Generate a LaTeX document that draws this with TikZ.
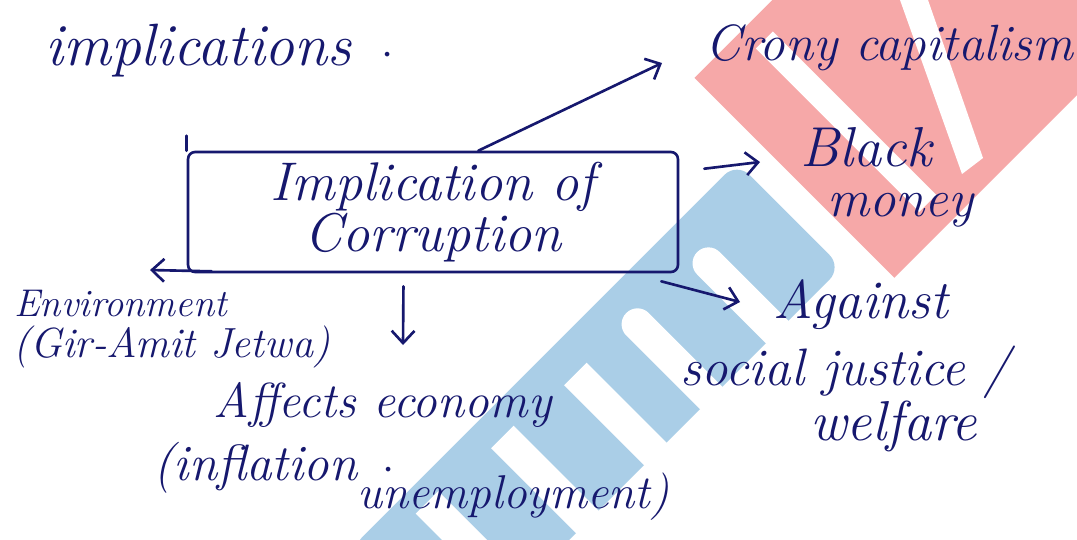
\documentclass[tikz,border=0pt]{standalone}
\usetikzlibrary{arrows.meta,calc}
\definecolor{ink}{RGB}{22,24,110}
\definecolor{wmpink}{RGB}{246,168,168}
\definecolor{wmblue}{RGB}{170,206,231}
\newcommand{\pqbox}[4]{(#1,#2) -- (#3,#2) -- (#3,#4) -- (#1,#4) -- cycle}
\tikzset{
  hw/.style={font=\fontsize{30}{32}\selectfont\itshape, text=ink, inner sep=0pt, anchor=base west},
  conn/.style={draw=ink, line width=1.5pt, line cap=round, line join=round},
  arr/.style={conn, -{Straight Barb[length=7pt,width=13pt,line width=1.5pt]}},
  boxst/.style={draw=ink, line width=1.5pt, rounded corners=4pt, minimum width=9.8cm,
    minimum height=2.4cm, inner sep=0pt, text=ink, align=center,
    font=\fontsize{31}{26}\selectfont\itshape}
}
\begin{document}
\begin{tikzpicture}[x=0.02cm,y=-0.02cm]
\useasboundingbox (0,0) rectangle (1077,539);
\fill[white] (0,0) rectangle (1077,539);
% watermark
\begin{scope}
  \clip (0,0) rectangle (1077,539);
  \begin{scope}[x={(0.01cm,0.01cm)},y={(0.01cm,-0.01cm)}]
    \fill[wmpink] \pqbox{617}{773}{1500}{1173};
    \fill[white] \pqbox{708}{805}{742}{1132};
    \fill[wmblue, rounded corners=10pt] \pqbox{-200}{900}{575}{1110};
    \fill[white, rounded corners=9pt] \pqbox{423}{950}{468}{1135};
    \fill[white, rounded corners=9pt] \pqbox{291}{940}{336}{1135};
    \fill[white] \pqbox{179}{950}{224}{1135};
    \fill[white] \pqbox{43}{940}{88}{1135};
    \fill[white] \pqbox{-98}{930}{-53}{1135};
  \end{scope}
  \fill[white] (900,0) -- (928,0) -- (983,158) -- (962,174) -- cycle;
\end{scope}
% texts
\node[hw, font=\fontsize{34}{36}\selectfont\itshape] (impl) at (45,65) {implications\enspace$\cdot$};
\node[hw, font=\fontsize{29}{31}\selectfont\itshape] (crony) at (705,60) {Crony capitalism};
\node[boxst] (box) at (433,212) {Implication of\\Corruption};
\node[hw, font=\fontsize{32}{34}\selectfont\itshape] (black) at (800,166) {Black};
\node[hw, font=\fontsize{30}{32}\selectfont\itshape] (money) at (827,216) {money};
\node[hw, font=\fontsize{31}{33}\selectfont\itshape] (against) at (773,318) {Against};
\node[hw, font=\fontsize{30}{32}\selectfont\itshape] (social) at (680,385) {social justice /};
\node[hw, font=\fontsize{32}{34}\selectfont\itshape] (welfare) at (810,440) {welfare};
\node[hw, font=\fontsize{22}{24}\selectfont\itshape] (env) at (14,316) {Environment};
\node[hw, font=\fontsize{24}{26}\selectfont\itshape] (gir) at (13,357) {(Gir-Amit Jetwa)};
\node[hw, font=\fontsize{28}{30}\selectfont\itshape] (aff) at (213,417) {Affects economy};
\node[hw, font=\fontsize{29}{31}\selectfont\itshape] (infl) at (153,480) {(inflation\enspace$\cdot$};
\node[hw, font=\fontsize{27}{29}\selectfont\itshape] (unemp) at (357,508) {unemployment)};
% box tick
\draw[conn] (box.north west) -- ++(0,-15);
% connectors
\draw[arr] ($(box.north west)!0.592!(box.north east)$) -- ($(crony.base west)+(-43,3)$);
\draw[arr] ($(box.north east)+(25,18)$) -- ($(black.base west)+(-40,-4)$);
\draw[arr] ($(box.south east)+(-18,8)$) -- ($(against.base west)+(-33,-16)$);
\draw[arr] ($(box.south west)+(25,-2)$) -- ($(env.base west)+(136,-46)$);
\draw[arr] ($(box.south west)!0.44!(box.south east)+(0,13)$) -- ($(aff.base west)+(190,-72)$);
\end{tikzpicture}
\end{document}
